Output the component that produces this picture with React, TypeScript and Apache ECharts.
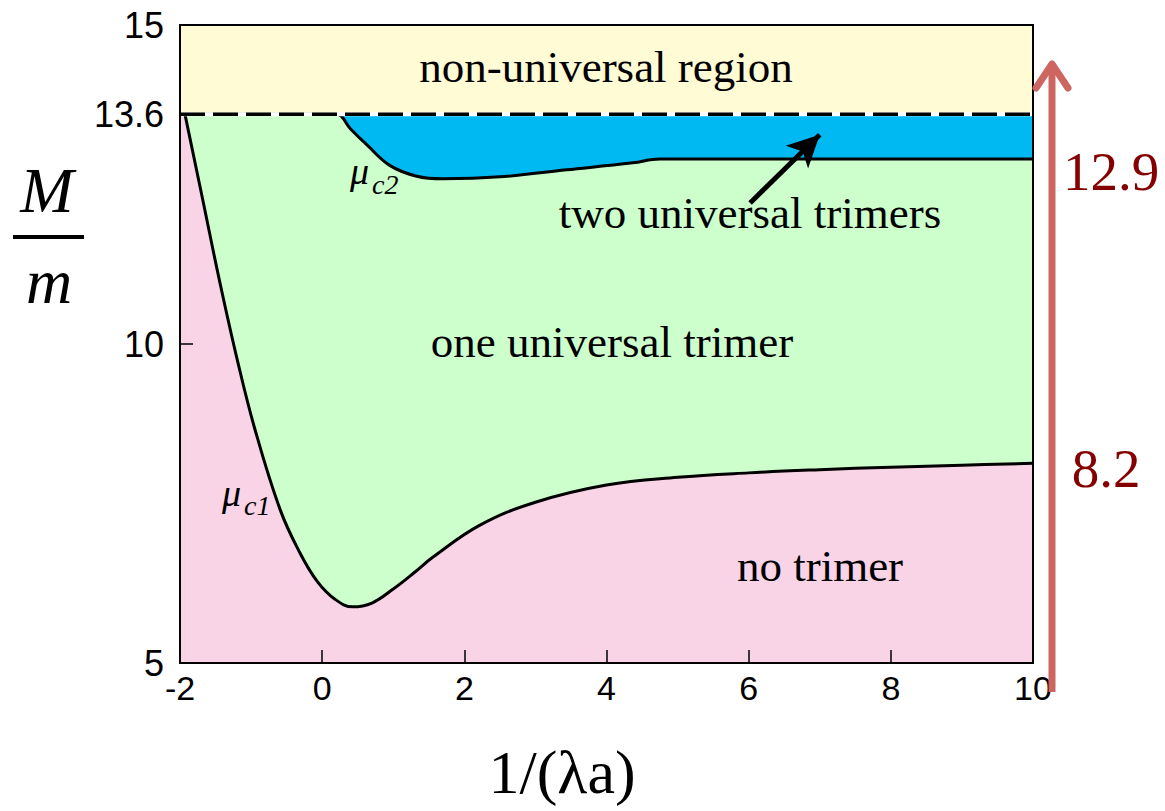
import React, { useEffect, useRef } from "react";
import * as echarts from "echarts";

// ---- data ----
const xMin = -2;
const xMax = 10;
const xInterval = 2;
const yMin = 5;
const yMax = 15;
const yLabelValues = [5, 10, 13.6, 15];
const yTickValues = [10];
const limitY = 13.6; // non-universal boundary

// mu_c1 boundary (one trimer threshold)
const mu1X = [-1.93, -1.68, -1.44, -1.2, -0.95, -0.59, -0.31, -0.07, 0.18, 0.43, 0.7, 1.0, 1.31, 1.56, 2.22, 3, 4, 5, 6, 7, 8, 9, 10];
const mu1Y = [13.6, 12.26, 10.97, 9.78, 8.68, 7.4, 6.72, 6.28, 6.0, 5.88, 5.94, 6.16, 6.43, 6.66, 7.16, 7.52, 7.79, 7.91, 7.98, 8.03, 8.07, 8.1, 8.13];

// mu_c2 boundary (two trimer threshold)
const mu2X = [0.21, 0.4, 0.63, 0.95, 1.33, 1.7, 2.5, 3.44, 4.37, 4.75, 6, 8, 10];
const mu2Y = [13.6, 13.37, 13.12, 12.8, 12.63, 12.59, 12.62, 12.73, 12.84, 12.9, 12.9, 12.9, 12.9];

const arrowFrom = [6.02, 12.21];
const arrowTo = [7.0, 13.28];

const sideLabels = ["12.9", "8.2"];

const COL_YELLOW = "#FFFBD5";
const COL_BLUE = "#00B9F2";
const COL_GREEN = "#CCFFCC";
const COL_PINK = "#F9D4E6";
const SERIF = '"Liberation Serif", "Times New Roman", serif';
const SANS = '"Liberation Sans", Arial, sans-serif';

export default function App() {
  const ref = useRef<HTMLDivElement>(null);

  useEffect(() => {
    if (!ref.current) return;
    const chart = echarts.init(ref.current, null, { renderer: "svg" });

    const mu1 = mu1X.map((x, i) => [x, mu1Y[i]]);
    const mu2 = mu2X.map((x, i) => [x, mu2Y[i]]);
    const startX = mu1X[0];
    const greenData = [[startX, limitY], [0.1, limitY], ...mu2];

    const axisLineStyle = { color: "#000", width: 2 };

    const option: any = {
      animation: false,
      backgroundColor: "#ffffff",
      grid: {
        left: 180,
        right: 132,
        top: 25,
        bottom: 148,
        show: true,
        backgroundColor: COL_PINK,
        borderWidth: 0,
        containLabel: false,
        outerBoundsMode: "none",
      },
      xAxis: [
        {
          type: "value",
          min: xMin,
          max: xMax,
          interval: xInterval,
          position: "bottom",
          z: 10,
          axisLine: { show: true, onZero: false, lineStyle: axisLineStyle },
          axisTick: { show: true, inside: true, length: 13, lineStyle: { color: "#000", width: 1.5 } },
          axisLabel: { color: "#000", fontSize: 34, fontFamily: SANS, margin: 8 },
          splitLine: { show: false },
        },
        {
          type: "value",
          min: xMin,
          max: xMax,
          position: "top",
          z: 10,
          axisLine: { show: true, onZero: false, lineStyle: axisLineStyle },
          axisTick: { show: false },
          axisLabel: { show: false },
          splitLine: { show: false },
        },
      ],
      yAxis: [
        {
          type: "value",
          min: yMin,
          max: yMax,
          position: "left",
          z: 10,
          axisLine: { show: true, onZero: false, lineStyle: axisLineStyle },
          axisTick: {
            show: true,
            inside: true,
            length: 13,
            customValues: yTickValues,
            lineStyle: { color: "#000", width: 1.5 },
          },
          axisLabel: {
            color: "#000",
            fontSize: 36,
            fontFamily: SANS,
            margin: 16,
            customValues: yLabelValues,
            formatter: (v: number) => String(v),
          },
          splitLine: { show: false },
        },
        {
          type: "value",
          min: yMin,
          max: yMax,
          position: "right",
          z: 10,
          axisLine: { show: true, onZero: false, lineStyle: axisLineStyle },
          axisTick: { show: false },
          axisLabel: { show: false },
          splitLine: { show: false },
        },
      ],
      series: [
        {
          name: "non-universal",
          type: "line",
          data: [[xMin, limitY], [xMax, limitY]],
          symbol: "none",
          silent: true,
          lineStyle: { width: 0 },
          areaStyle: { color: COL_YELLOW, origin: "end", opacity: 1 },
        },
        {
          name: "two-fill",
          type: "line",
          data: [[startX, limitY], [xMax, limitY]],
          symbol: "none",
          silent: true,
          lineStyle: { width: 0 },
          areaStyle: { color: COL_BLUE, origin: "start", opacity: 1 },
        },
        {
          name: "mu_c2",
          type: "line",
          data: greenData,
          symbol: "none",
          silent: true,
          smooth: 0.4,
          lineStyle: { color: "#000", width: 3 },
          areaStyle: { color: COL_GREEN, origin: "start", opacity: 1 },
        },
        {
          name: "mu_c1",
          type: "line",
          data: mu1,
          symbol: "none",
          silent: true,
          smooth: 0.4,
          lineStyle: { color: "#000", width: 3 },
          areaStyle: { color: COL_PINK, origin: "start", opacity: 1 },
        },
        {
          name: "limit-under",
          type: "line",
          z: 3,
          data: [[xMin, limitY], [xMax, limitY]],
          symbol: "none",
          silent: true,
          lineStyle: { color: "#ffffff", width: 4 },
        },
        {
          name: "limit",
          type: "line",
          z: 4,
          data: [[xMin, limitY], [xMax, limitY]],
          symbol: "none",
          silent: true,
          lineStyle: { color: "#000", width: 3.5, type: [25, 8] },
          markLine: {
            silent: true,
            animation: false,
            symbol: ["none", "arrow"],
            symbolSize: [24, 32],
            label: { show: false },
            lineStyle: { color: "#000", width: 5, type: "solid" },
            data: [[{ coord: arrowFrom }, { coord: arrowTo }]],
          },
        },
      ],
      graphic: [
        {
          type: "text",
          z: 50,
          x: 606,
          y: 67,
          style: { text: "non-universal region", font: `45px ${SERIF}`, fill: "#000", align: "center", verticalAlign: "middle" },
        },
        {
          type: "text",
          z: 50,
          x: 750,
          y: 213,
          style: { text: "two universal trimers", font: `45px ${SERIF}`, fill: "#000", align: "center", verticalAlign: "middle" },
        },
        {
          type: "text",
          z: 50,
          x: 612,
          y: 342,
          style: { text: "one universal trimer", font: `45px ${SERIF}`, fill: "#000", align: "center", verticalAlign: "middle" },
        },
        {
          type: "text",
          z: 50,
          x: 820,
          y: 566,
          style: { text: "no trimer", font: `45px ${SERIF}`, fill: "#000", align: "center", verticalAlign: "middle" },
        },
        // mu_c2 label
        {
          type: "text",
          z: 50,
          x: 350,
          y: 171,
          style: { text: "μ", font: `italic 38px ${SERIF}`, fill: "#000", align: "left", verticalAlign: "middle" },
        },
        {
          type: "text",
          z: 50,
          x: 372,
          y: 184,
          style: { text: "c2", font: `italic 28px ${SERIF}`, fill: "#000", align: "left", verticalAlign: "middle" },
        },
        // mu_c1 label
        {
          type: "text",
          z: 50,
          x: 222,
          y: 493,
          style: { text: "μ", font: `italic 38px ${SERIF}`, fill: "#000", align: "left", verticalAlign: "middle" },
        },
        {
          type: "text",
          z: 50,
          x: 244,
          y: 505,
          style: { text: "c1", font: `italic 28px ${SERIF}`, fill: "#000", align: "left", verticalAlign: "middle" },
        },
        // y-axis title M / m
        {
          type: "text",
          z: 50,
          x: 47,
          y: 190,
          style: { text: "M", font: `italic 64px ${SERIF}`, fill: "#000", align: "center", verticalAlign: "middle" },
        },
        {
          type: "line",
          z: 50,
          shape: { x1: 13, y1: 237, x2: 84, y2: 237 },
          style: { stroke: "#000", lineWidth: 4 },
        },
        {
          type: "text",
          z: 50,
          x: 49,
          y: 281,
          style: { text: "m", font: `italic 64px ${SERIF}`, fill: "#000", align: "center", verticalAlign: "middle" },
        },
        // x-axis title
        {
          type: "text",
          z: 50,
          x: 562,
          y: 772,
          style: { text: "1/(λa)", font: `62px ${SERIF}`, fill: "#000", align: "center", verticalAlign: "middle" },
        },
        // right side arrow
        {
          type: "line",
          z: 60,
          shape: { x1: 1052, y1: 692, x2: 1052, y2: 66 },
          style: { stroke: "#CD6660", lineWidth: 7 },
        },
        {
          type: "polyline",
          z: 60,
          shape: { points: [[1036, 88], [1052, 64], [1068, 88]] },
          style: { stroke: "#CD6660", lineWidth: 7, fill: "none", lineCap: "round", lineJoin: "round" },
        },
        {
          type: "text",
          z: 60,
          x: 1111,
          y: 171,
          style: { text: sideLabels[0], font: `55px ${SERIF}`, fill: "#850000", align: "center", verticalAlign: "middle" },
        },
        {
          type: "text",
          z: 60,
          x: 1106,
          y: 468,
          style: { text: sideLabels[1], font: `55px ${SERIF}`, fill: "#850000", align: "center", verticalAlign: "middle" },
        },
      ],
    };

    chart.setOption(option);
    return () => chart.dispose();
  }, []);

  return (
    <div
      ref={ref}
      style={{ position: "fixed", left: 0, top: 0, width: 1165, height: 811, background: "#fff" }}
    />
  );
}
